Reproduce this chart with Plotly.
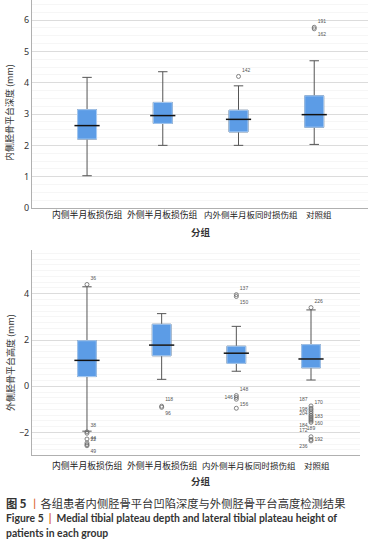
import plotly.graph_objects as go

W, H = 373, 551
categories = ["内侧半月板损伤组", "外侧半月板损伤组", "内外侧半月板同时损伤组", "对照组"]

# Top chart: medial tibial plateau depth (mm)
top_low = [1.03, 2.00, 2.00, 2.03]
top_q1 = [2.20, 2.70, 2.43, 2.58]
top_med = [2.63, 2.95, 2.83, 2.98]
top_q3 = [3.14, 3.37, 3.12, 3.58]
top_high = [4.17, 4.35, 3.90, 4.70]
top_out_cat = [2, 3, 3]
top_out_val = [4.20, 5.77, 5.72]
top_out_lab = ["142", "191", "162"]
top_out_pos = ["top right", "top right", "bottom right"]

# Bottom chart: lateral tibial plateau height (mm)
bot_low = [-1.94, 0.30, 0.65, 0.27]
bot_q1 = [0.42, 1.32, 0.99, 0.80]
bot_med = [1.12, 1.78, 1.43, 1.18]
bot_q3 = [1.97, 2.68, 1.73, 1.80]
bot_high = [4.30, 3.14, 2.59, 3.30]
bot_out_cat = [0, 0, 0, 0, 0, 0, 0,
               1, 1,
               2, 2, 2, 2, 2, 2,
               3, 3, 3, 3, 3, 3, 3, 3, 3, 3, 3, 3, 3, 3, 3]
bot_out_val = [4.40, -1.97, -2.03, -2.28, -2.45, -2.52, -2.57,
               -0.86, -0.91,
               3.88, 3.96, -0.40, -0.48, -0.56, -0.95,
               3.40, -0.85, -0.95, -1.02, -1.10, -1.18, -1.26, -1.32, -1.38,
               -1.44, -1.50, -1.56, -2.18, -2.30, -2.36]
bot_out_lab = ["36", "38", "22", "44", "", "", "49",
               "118", "96",
               "150", "137", "148", "146", "156", "",
               "226", "187", "170", "198", "", "204", "", "183", "160",
               "184", "", "189", "172", "192", "236"]
bot_out_pos = ["top right", "top right", "bottom right", "middle right", "middle right", "middle right", "bottom right",
               "top right", "bottom right",
               "bottom right", "top right", "top right", "middle left", "bottom right", "middle right",
               "top right", "top left", "top right", "middle left", "middle right", "middle left", "middle right", "middle right", "bottom right",
               "bottom left", "middle right", "bottom center", "top left", "middle right", "bottom left"]

BLUE = "#5c9ce6"
EDGE = "#a8ccf4"
WHISK = "#555555"
BOXW = 0.25

fig = go.Figure()


def add_panel(xa, ya, low, q1, med, q3, high, oc, ov, ol, op):
    xs = list(categories)
    fig.add_trace(go.Box(
        x=xs, q1=q1, median=med, q3=q3, lowerfence=low, upperfence=high,
        xaxis=xa, yaxis=ya, width=BOXW, whiskerwidth=0.5,
        line=dict(color=WHISK, width=1), fillcolor=BLUE,
        boxpoints=False, showlegend=False, hoverinfo="skip"))
    fig.add_trace(go.Box(
        x=xs, q1=q1, median=med, q3=q3, lowerfence=q1, upperfence=q3,
        xaxis=xa, yaxis=ya, width=BOXW, whiskerwidth=0,
        line=dict(color=EDGE, width=1), fillcolor=BLUE,
        boxpoints=False, showlegend=False, hoverinfo="skip"))
    fig.add_trace(go.Scatter(
        x=xs, y=med, mode="markers", xaxis=xa, yaxis=ya,
        marker=dict(symbol="line-ew", size=18, line=dict(color="#111111", width=1.5)),
        showlegend=False, hoverinfo="skip"))
    fig.add_trace(go.Scatter(
        x=[categories[i] for i in oc], y=ov, mode="markers+text", xaxis=xa, yaxis=ya,
        text=ol, textposition=op, textfont=dict(size=5, color="#555555", family="Liberation Sans"),
        marker=dict(symbol="circle-open", size=4, color="#666666", line=dict(width=0.8)),
        showlegend=False, hoverinfo="skip", cliponaxis=False))


add_panel("x", "y", top_low, top_q1, top_med, top_q3, top_high,
          top_out_cat, top_out_val, top_out_lab, top_out_pos)
add_panel("x2", "y2", bot_low, bot_q1, bot_med, bot_q3, bot_high,
          bot_out_cat, bot_out_val, bot_out_lab, bot_out_pos)

tickfont_num = dict(family="Noto Sans", size=9, color="#333333")

xcommon = dict(type="category", categoryorder="array", categoryarray=categories,
               showgrid=False, zeroline=False, showline=True, linecolor="#b0b0b0",
               linewidth=1, ticks="", showticklabels=False, automargin=False)
ycommon = dict(showgrid=True, gridcolor="#dcdcdc", gridwidth=1, zeroline=False,
               showline=True, linecolor="#b0b0b0", linewidth=1, ticks="",
               tickfont=tickfont_num, automargin=False,
               minor=dict(showgrid=True, gridcolor="#f6f6f6", gridwidth=1, dtick=0.25))

fig.update_layout(
    width=W, height=H, margin=dict(l=0, r=0, t=0, b=0, autoexpand=False),
    paper_bgcolor="white", plot_bgcolor="white", boxmode="overlay",
    xaxis=dict(xcommon, domain=[32 / W, 368 / W], range=[-0.727, 3.71], anchor="y"),
    yaxis=dict(ycommon, domain=[1 - 208 / H, 1.0], range=[0, 6.64], dtick=1, anchor="x"),
    xaxis2=dict(xcommon, domain=[32 / W, 360 / W], range=[-0.736, 3.656], anchor="y2"),
    yaxis2=dict(ycommon, domain=[1 - 455 / H, 1 - 250 / H], range=[-2.97, 5.89],
                tickvals=[-2, 0, 2, 4], ticktext=["\u22122", "0", "2", "4"], anchor="x2"),
)


def A(text, px, py, size, family="Noto Sans CJK SC", xanchor="center", angle=0, color="#333333"):
    return dict(text=text, x=px / W, y=1 - py / H, xref="paper", yref="paper",
                xanchor=xanchor, yanchor="middle", showarrow=False, textangle=angle,
                font=dict(family=family, size=size, color=color))


label_x_top = [87, 162.5, 251, 319]
label_x_bot = [87, 162, 249, 317]
label_size = [8.8, 8.8, 8.5, 8.5]
ann = []
for i, c in enumerate(categories):
    ann.append(A(c, label_x_top[i], 214, label_size[i], color="#222222"))
    ann.append(A(c, label_x_bot[i], 465, label_size[i], color="#222222"))
ann += [
    A("<b>分组</b>", 201, 232, 9.5),
    A("<b>分组</b>", 201, 481, 9.5),
    A("内侧胫骨平台深度 (mm)", 10, 113, 9, angle=-90),
    A("外侧胫骨平台高度 (mm)", 10, 363, 9, angle=-90),
    A("<b>图 5 </b><span style='color:#d9602a'>丨</span>各组患者内侧胫骨平台凹陷深度与外侧胫骨平台高度检测结果",
      4, 503, 11.3, xanchor="left"),
    A("<b>Figure 5  <span style='color:#d9602a'>|</span>  Medial tibial plateau depth and lateral tibial plateau height of</b>",
      4, 518, 10.4, family="Lato", xanchor="left"),
    A("<b>patients in each group</b>", 4, 533, 10.4, family="Lato", xanchor="left"),
]
fig.update_layout(annotations=ann)

fig.write_html("out.html", config={"displayModeBar": False},
               post_script="document.body.style.margin='0';document.body.style.padding='0';")
